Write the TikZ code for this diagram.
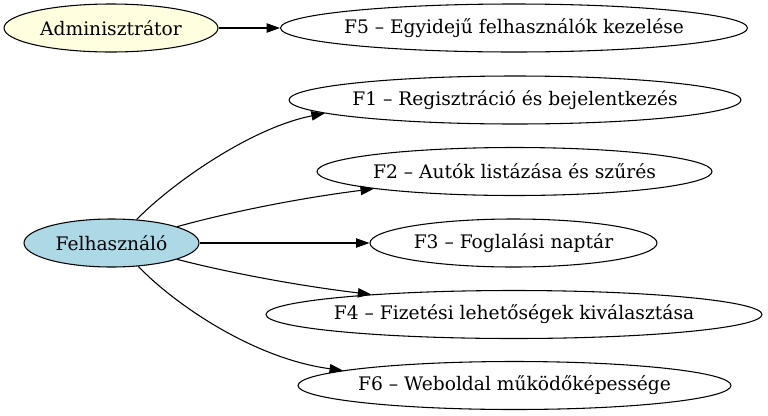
\documentclass[tikz,border=0pt]{standalone}
\usepackage{fontspec}
\setmainfont{DejaVu Serif}
\usetikzlibrary{shapes.geometric,arrows.meta}
\definecolor{lightyel}{HTML}{FFFFE0}
\definecolor{lightblu}{HTML}{ADD8E6}
\tikzset{
  oval/.style={ellipse, draw=black, line width=0.8pt, inner sep=0pt, minimum height=36pt, font=\fontsize{14pt}{16pt}\selectfont},
  conn/.style={line width=0.8pt, -{Triangle[length=10pt,width=7pt]}},
}
\begin{document}
\begin{tikzpicture}[x=0.75pt,y=-0.75pt]
\useasboundingbox (0,0) rectangle (768,415);
\node[oval, fill=lightyel, minimum width=160.5pt] (adm) at (111,28) {\makebox[0pt]{Adminisztrátor}};
\node[oval, fill=lightblu, minimum width=131.25pt] (fel) at (111.5,243) {\makebox[0pt]{Felhasználó}};
\node[oval, minimum width=350.25pt] (f5) at (514,28) {\makebox[0pt]{F5 – Egyidejű felhasználók kezelése}};
\node[oval, minimum width=339pt] (f1) at (515,100) {\makebox[0pt]{F1 – Regisztráció és bejelentkezés}};
\node[oval, minimum width=296.25pt] (f2) at (514.5,171.5) {\makebox[0pt]{F2 – Autók listázása és szűrés}};
\node[oval, minimum width=215.25pt] (f3) at (513.5,243) {\makebox[0pt]{F3 – Foglalási naptár}};
\node[oval, minimum width=372pt] (f4) at (514,314.5) {\makebox[0pt]{F4 – Fizetési lehetőségek kiválasztása}};
\node[oval, minimum width=324.75pt] (f6) at (514.5,385.5) {\makebox[0pt]{F6 – Weboldal működőképessége}};
\draw[conn] (adm.east) -- (f5.west);
\draw[conn] (fel.east) -- (f3.west);
\draw[conn] (fel.43) .. controls (170,185) and (250,128) .. (f1.184.5);
\draw[conn] (fel.14) .. controls (230,212) and (300,198) .. (f2.187.3);
\draw[conn] (fel.-14) .. controls (230,273) and (300,286) .. (f4.172.4);
\draw[conn] (fel.-41) .. controls (170,300) and (250,358) .. (f6.175.6);
\end{tikzpicture}
\end{document}
